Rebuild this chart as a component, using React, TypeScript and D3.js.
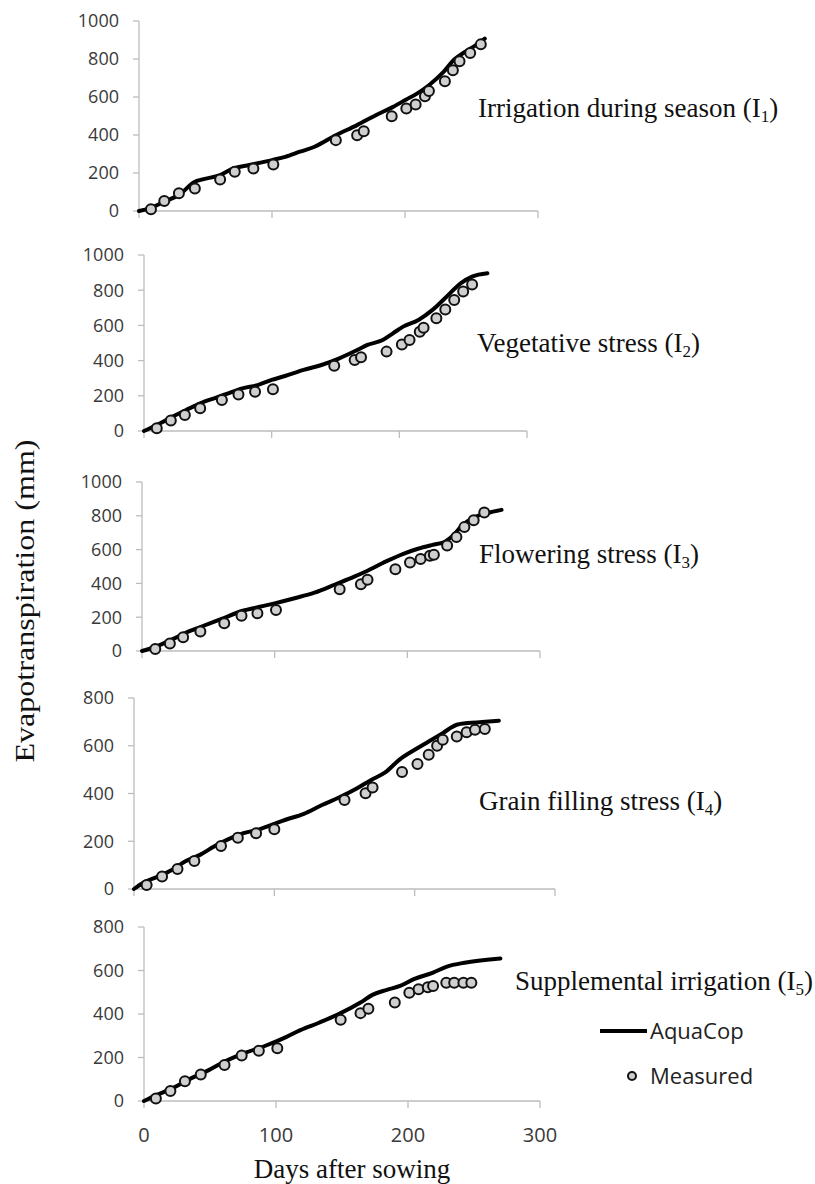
import React from "react";
import * as d3 from "d3";

// ---------- data ----------
const xTicks = [0, 100, 200, 300];
const yTicks1000 = [0, 200, 400, 600, 800, 1000];
const yTicks800 = [0, 200, 400, 600, 800];

const panelNames = [
  "Irrigation during season",
  "Vegetative stress",
  "Flowering stress",
  "Grain filling stress",
  "Supplemental irrigation",
];
const panelSubs = ["1", "2", "3", "4", "5"];
const panelYMax = [1000, 1000, 1000, 800, 800];

// [day, ET mm]
const i1Sim: [number, number][] = [
  [0, 0], [8, 14], [19, 49], [30, 84], [42, 154], [47, 165], [61, 189], [71, 224], [83, 242],
  [100, 268], [110, 285], [121, 312], [132, 338], [148, 399], [164, 452], [178, 504], [191, 548],
  [201, 587], [209, 618], [218, 662], [229, 732], [237, 797], [245, 837], [253, 872], [260, 907],
];
const i1Obs: [number, number][] = [
  [9, 9], [19, 53], [30, 93], [42, 119], [61, 166], [72, 207], [86, 224], [101, 245], [148, 373],
  [164, 399], [169, 420], [190, 499], [201, 539], [208, 560], [215, 604], [218, 632], [230, 683],
  [236, 741], [241, 788], [249, 832], [257, 877],
];

const i2Sim: [number, number][] = [
  [0, 0], [10, 34], [21, 76], [33, 119], [44, 157], [55, 186], [66, 214], [77, 242], [89, 261],
  [100, 290], [111, 314], [125, 347], [139, 375], [153, 413], [167, 460], [175, 489], [187, 517],
  [195, 555], [203, 593], [215, 631], [226, 688], [237, 763], [248, 839], [257, 877], [269, 896],
];
const i2Obs: [number, number][] = [
  [10, 15], [21, 59], [32, 91], [44, 129], [61, 176], [74, 208], [87, 223], [101, 237], [149, 371],
  [165, 403], [170, 419], [190, 451], [202, 492], [208, 517], [216, 564], [219, 587], [229, 640],
  [236, 691], [243, 744], [250, 792], [257, 833],
];

const i3Sim: [number, number][] = [
  [0, 0], [11, 28], [22, 66], [33, 108], [44, 142], [60, 190], [76, 238], [88, 260], [100, 282],
  [115, 312], [130, 345], [146, 395], [160, 440], [170, 475], [184, 530], [197, 575], [208, 605],
  [219, 628], [228, 645], [234, 680], [241, 740], [250, 790], [260, 815], [271, 835],
];
const i3Obs: [number, number][] = [
  [10, 12], [21, 45], [31, 81], [44, 115], [62, 164], [75, 209], [87, 223], [101, 243], [149, 366],
  [165, 395], [170, 421], [191, 484], [202, 524], [210, 545], [217, 563], [220, 569], [230, 624],
  [237, 674], [243, 733], [250, 773], [258, 820],
];

const i4Sim: [number, number][] = [
  [0, 0], [6, 24], [17, 52], [27, 80], [37, 117], [47, 143], [57, 178], [67, 208], [78, 234],
  [88, 248], [98, 269], [108, 290], [121, 315], [134, 352], [146, 383], [159, 422], [169, 457],
  [179, 488], [189, 541], [200, 583], [210, 618], [220, 653], [230, 688], [238, 695], [248, 699],
  [260, 705],
];
const i4Obs: [number, number][] = [
  [9, 17], [20, 52], [31, 84], [43, 117], [62, 180], [74, 215], [87, 234], [100, 250], [150, 373],
  [165, 401], [170, 425], [191, 490], [202, 524], [210, 562], [216, 600], [220, 625], [230, 639],
  [237, 657], [243, 667], [250, 670],
];

const i5Sim: [number, number][] = [
  [0, 0], [9, 26], [21, 57], [33, 96], [49, 142], [61, 181], [76, 220], [92, 254], [108, 295],
  [118, 325], [133, 361], [149, 404], [164, 453], [173, 488], [184, 511], [194, 529], [204, 559],
  [219, 590], [229, 617], [244, 637], [270, 655],
];
const i5Obs: [number, number][] = [
  [9, 11], [20, 46], [31, 91], [43, 122], [61, 166], [74, 209], [87, 231], [101, 243], [149, 373],
  [164, 404], [170, 424], [190, 453], [201, 498], [208, 514], [215, 523], [219, 529], [229, 544],
  [235, 544], [242, 544], [248, 544],
];

const simSeries = [i1Sim, i2Sim, i3Sim, i4Sim, i5Sim];
const obsSeries = [i1Obs, i2Obs, i3Obs, i4Obs, i5Obs];

const legendLabels = ["AquaCop", "Measured"];
const xTitle = "Days after sowing";
const yTitle = "Evapotranspiration (mm)";

// ---------- layout ----------
const W = 815;
const H = 1184;
const panels = [
  { x0: 139, x1: 538, yTop: 21, yBot: 211, lx: 478, ly: 117 },
  { x0: 144, x1: 527, yTop: 255, yBot: 431, lx: 477, ly: 352 },
  { x0: 142, x1: 540, yTop: 482, yBot: 651, lx: 479, ly: 563 },
  { x0: 134, x1: 555, yTop: 698, yBot: 889, lx: 479, ly: 810 },
  { x0: 144, x1: 540, yTop: 927, yBot: 1101, lx: 515, ly: 990 },
];

const AXIS = "#bdbdbd";
const TICKTXT = "#3a3a3a";
const SANS = "'Open Sans', 'Noto Sans', sans-serif";
const SERIF = "'Liberation Serif', 'DejaVu Serif', serif";

function Panel({ i }: { i: number }) {
  const p = panels[i];
  const yMax = panelYMax[i];
  const x = d3.scaleLinear().domain([0, 300]).range([p.x0, p.x1]);
  const y = d3.scaleLinear().domain([0, yMax]).range([p.yBot, p.yTop]);
  const yTicks = yMax === 1000 ? yTicks1000 : yTicks800;
  const line = d3
    .line<[number, number]>()
    .x((d) => x(d[0]))
    .y((d) => y(d[1]))
    .curve(d3.curveMonotoneX);
  const isLast = i === panels.length - 1;
  return (
    <g>
      {/* y axis */}
      <line x1={p.x0} x2={p.x0} y1={p.yTop} y2={p.yBot} stroke={AXIS} strokeWidth={1.3} />
      {yTicks.map((t) => (
        <g key={"y" + t}>
          <line x1={p.x0 - 6} x2={p.x0} y1={y(t)} y2={y(t)} stroke={AXIS} strokeWidth={1.3} />
          <text
            x={p.x0 - 20}
            y={y(t)}
            dy="0.36em"
            textAnchor="end"
            fontFamily={SANS}
            fontSize={18}
            fill={TICKTXT}
          >
            {t}
          </text>
        </g>
      ))}
      {/* x axis */}
      <line x1={p.x0} x2={p.x1} y1={p.yBot} y2={p.yBot} stroke={AXIS} strokeWidth={1.3} />
      {xTicks.map((t) => (
        <g key={"x" + t}>
          <line x1={x(t)} x2={x(t)} y1={p.yBot} y2={p.yBot + 7} stroke={AXIS} strokeWidth={1.3} />
          {isLast && (
            <text
              x={x(t)}
              y={p.yBot + 34}
              dy="0.36em"
              textAnchor="middle"
              fontFamily={SANS}
              fontSize={20}
              fill={TICKTXT}
            >
              {t}
            </text>
          )}
        </g>
      ))}
      {/* simulated line */}
      <path d={line(simSeries[i]) || ""} fill="none" stroke="#000" strokeWidth={4} strokeLinejoin="round" strokeLinecap="round" />
      {/* measured points */}
      {obsSeries[i].map((d, k) => (
        <circle key={k} cx={x(d[0])} cy={y(d[1])} r={5} fill="#cfcfcf" stroke="#111" strokeWidth={2} />
      ))}
      {/* panel label */}
      <text x={p.lx} y={p.ly} fontFamily={SERIF} fontSize={27} fill="#111">
        {panelNames[i] + " (I"}
        <tspan fontSize={17} dy={5}>
          {panelSubs[i]}
        </tspan>
        <tspan dy={-5}>)</tspan>
      </text>
    </g>
  );
}

export default function App() {
  return (
    <svg
      width={W}
      height={H}
      viewBox={`0 0 ${W} ${H}`}
      style={{ position: "absolute", left: 0, top: 0, background: "#fff" }}
    >
      <rect x={0} y={0} width={W} height={H} fill="#fff" />
      {panels.map((_, i) => (
        <Panel key={i} i={i} />
      ))}
      {/* legend */}
      <line x1={600} x2={647} y1={1031} y2={1031} stroke="#000" strokeWidth={4} />
      <text x={650} y={1031} dy="0.36em" fontFamily={SANS} fontSize={22} fill="#222">
        {legendLabels[0]}
      </text>
      <circle cx={632} cy={1076} r={4} fill="#cfcfcf" stroke="#111" strokeWidth={2} />
      <text x={650} y={1076} dy="0.36em" fontFamily={SANS} fontSize={22} fill="#222">
        {legendLabels[1]}
      </text>
      {/* axis titles */}
      <text x={352} y={1178} textAnchor="middle" fontFamily={SERIF} fontSize={27} fill="#111">
        {xTitle}
      </text>
      <text
        transform="translate(34,601) rotate(-90)"
        textAnchor="middle"
        fontFamily={SERIF}
        fontSize={27}
        fill="#111"
        textLength={323}
        lengthAdjust="spacingAndGlyphs"
      >
        {yTitle}
      </text>
    </svg>
  );
}
